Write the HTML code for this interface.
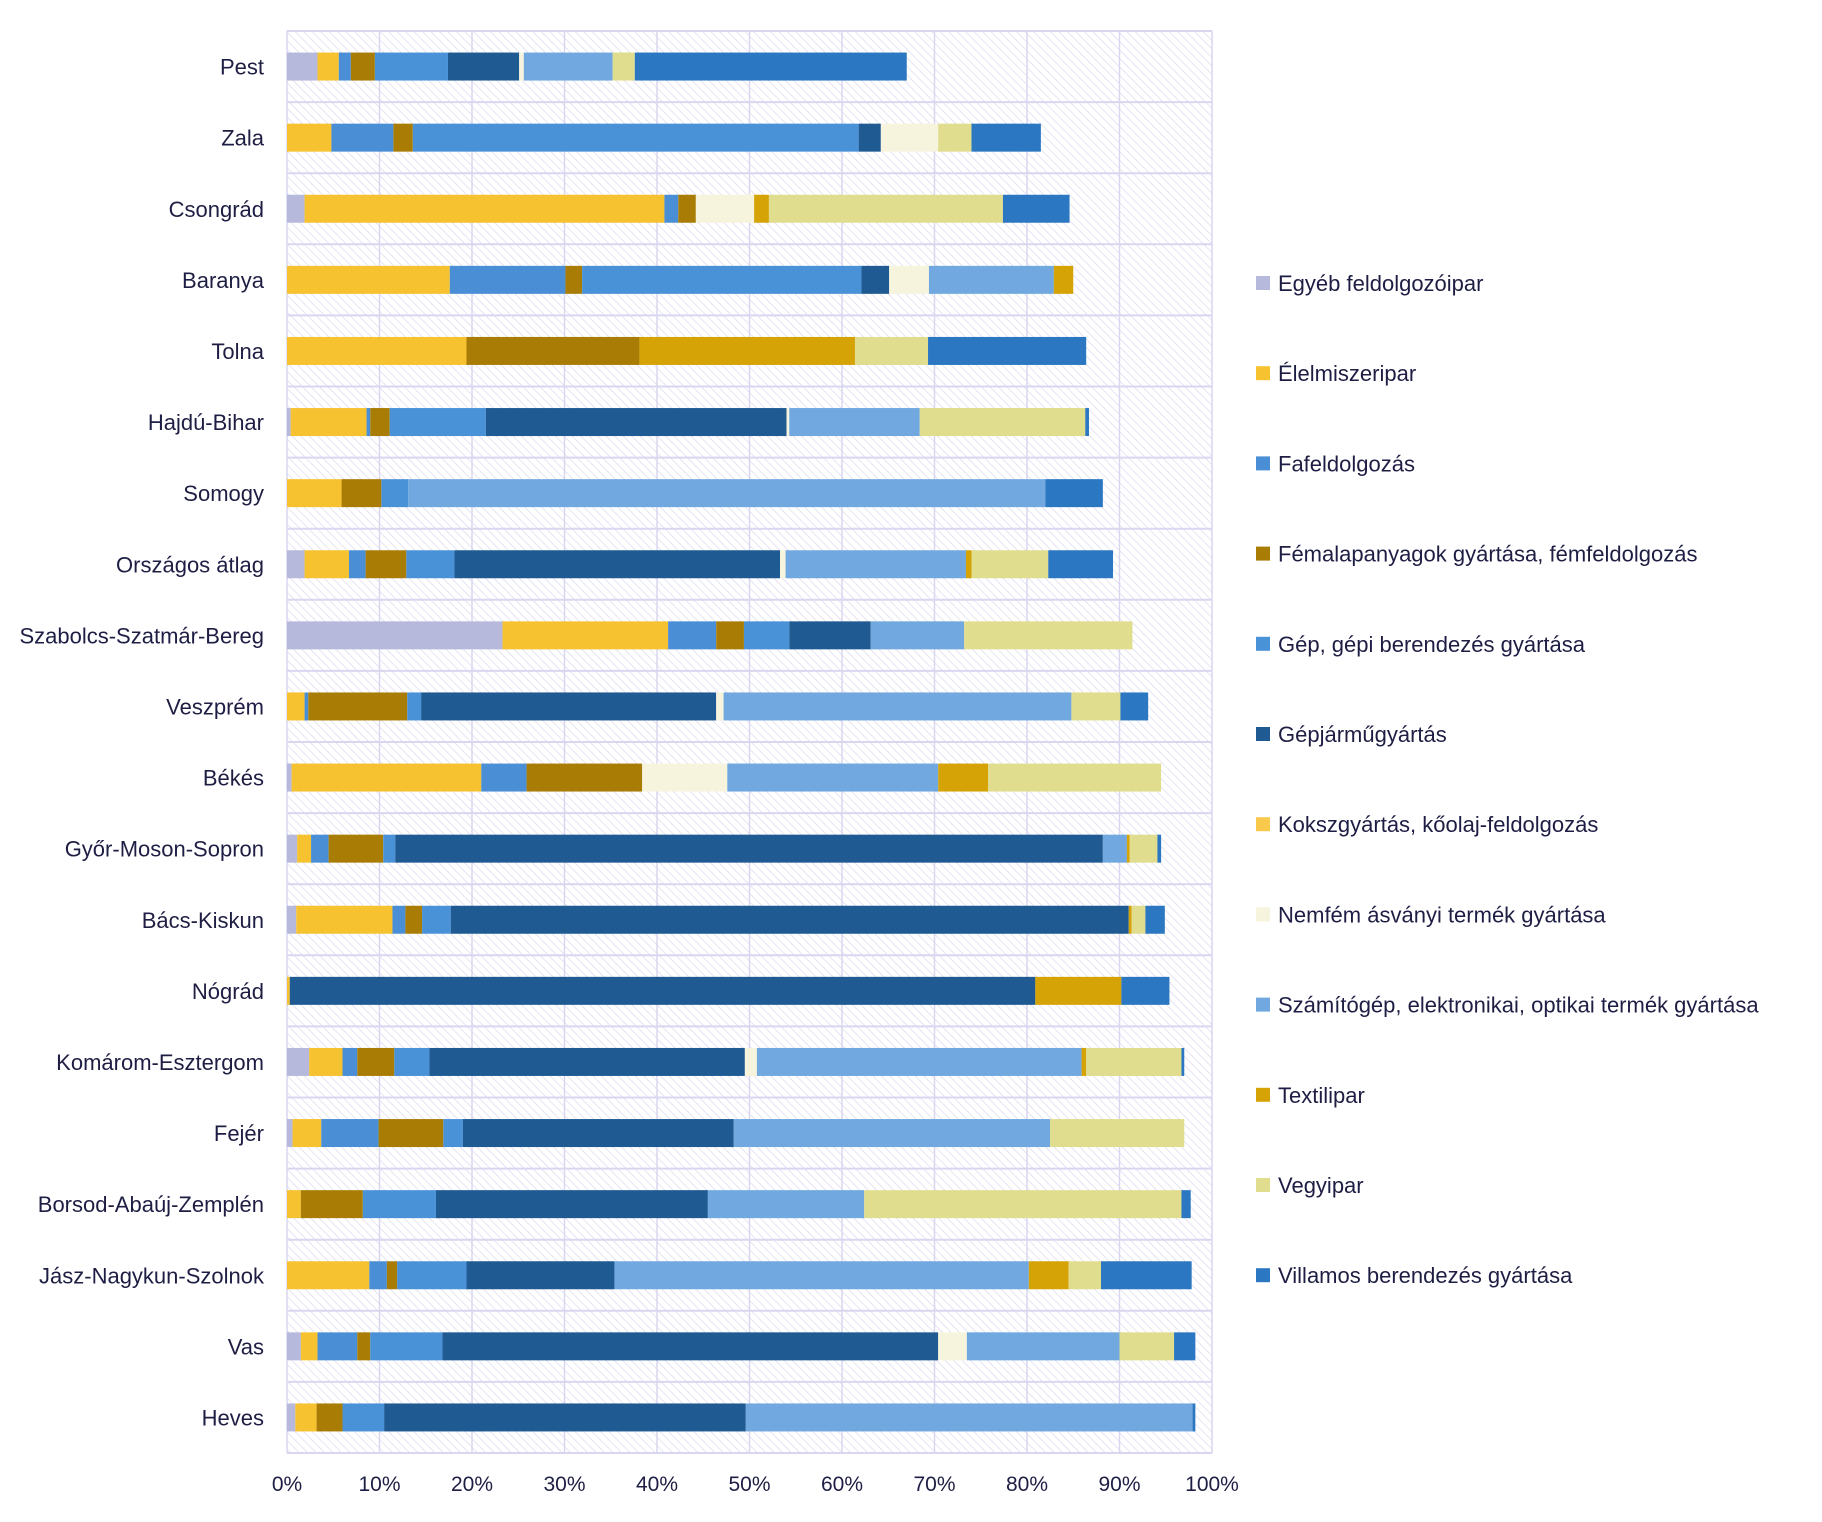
<!DOCTYPE html>
<html><head><meta charset="utf-8"><style>
html,body{margin:0;padding:0;background:#fff;}
svg text{font-family:"Liberation Sans",sans-serif;fill:#1e1e44;}
</style></head><body>
<svg id="chart" width="1822" height="1517" xmlns="http://www.w3.org/2000/svg">
<defs>
<pattern id="hatch" width="6" height="6" patternUnits="userSpaceOnUse" patternTransform="rotate(-45)">
<line x1="0" y1="0" x2="0" y2="6" stroke="#d8d5ee" stroke-width="1.3"/>
</pattern>
</defs>
<g id="plot"></g>
<g id="legend"></g>
</svg>
<script>
const categories=["Pest","Zala","Csongrád","Baranya","Tolna","Hajdú-Bihar","Somogy","Országos átlag","Szabolcs-Szatmár-Bereg","Veszprém","Békés","Győr-Moson-Sopron","Bács-Kiskun","Nógrád","Komárom-Esztergom","Fejér","Borsod-Abaúj-Zemplén","Jász-Nagykun-Szolnok","Vas","Heves"];
const seriesNames=["Egyéb feldolgozóipar","Élelmiszeripar","Fafeldolgozás","Fémalapanyagok gyártása, fémfeldolgozás","Gép, gépi berendezés gyártása","Gépjárműgyártás","Kokszgyártás, kőolaj-feldolgozás","Nemfém ásványi termék gyártása","Számítógép, elektronikai, optikai termék gyártása","Textilipar","Vegyipar","Villamos berendezés gyártása"];
const egyeb=[3.3,0,1.9,0,0,0.4,0,1.9,23.3,0,0.5,1.1,1.0,0,2.4,0.6,0,0,1.5,0.9];
const elelmiszer=[2.3,4.8,38.9,17.6,19.4,8.2,5.9,4.8,17.9,1.9,20.5,1.5,10.4,0.3,3.6,3.1,1.5,8.9,1.8,2.3];
const fafeld=[1.3,6.7,1.5,12.5,0,0.4,0,1.8,5.2,0.4,4.9,1.9,1.4,0,1.6,6.2,0,1.9,4.3,0];
const femalap=[2.6,2.1,1.9,1.8,18.7,2.1,4.3,4.4,3.0,10.7,12.5,5.9,1.8,0,4.0,7.0,6.7,1.1,1.4,2.8];
const gep=[7.9,48.2,0,30.2,0,10.4,2.9,5.2,4.9,1.5,0,1.3,3.1,0,3.8,2.1,7.9,7.5,7.8,4.5];
const gepjarmu=[7.7,2.4,0,3.0,0,32.5,0,35.2,8.8,31.9,0,76.5,73.3,80.6,34.1,29.3,29.4,16.0,53.6,39.1];
const koksz=[0,0,0,0,0,0,0,0,0,0,0,0,0,0,0,0,0,0,0,0];
const nemfem=[0.5,6.2,6.3,4.3,0,0.3,0,0.6,0,0.8,9.2,0,0,0,1.3,0,0,0,3.1,0];
const szamitogep=[9.6,0,0,13.5,0,14.1,68.9,19.5,10.1,37.6,22.8,2.6,0,0,35.1,34.2,16.9,44.8,16.5,48.3];
const textil=[0,0,1.6,2.1,23.3,0,0,0.6,0,0,5.4,0.3,0.3,9.3,0.5,0,0,4.3,0,0];
const vegyipar=[2.4,3.6,25.3,0,7.9,17.9,0,8.3,18.2,5.3,18.7,3.0,1.5,0,10.3,14.5,34.3,3.5,5.9,0];
const villamos=[29.4,7.5,7.2,0,17.1,0.4,6.2,7.0,0,3.0,0,0.4,2.1,5.2,0.3,0,1.0,9.8,2.3,0.3];
const xTicks=["0%","10%","20%","30%","40%","50%","60%","70%","80%","90%","100%"];

const series=[egyeb,elelmiszer,fafeld,femalap,gep,gepjarmu,koksz,nemfem,szamitogep,textil,vegyipar,villamos];
const colors=["#b6b9dc","#f6c230","#4a8fd5","#a97d05","#4a92d8","#1f5a93","#f8c94a","#f7f4dd","#70a8df","#d6a306","#e0dd8e","#2b77c2"];
const slugs=["egyeb","elelmiszer","fafeld","femalap","gep","gepjarmu","koksz","nemfem","szamitogep","textil","vegyipar","villamos"];
const NS="http://www.w3.org/2000/svg";
const L=287,R=1212,T=31,B=1453;
const rowH=(B-T)/categories.length, barH=28;
const x=v=>L+(R-L)*v/100;
const yc=i=>T+rowH*(i+0.5);
const plot=document.getElementById('plot');
function mk(tag,attrs,parent){const e=document.createElementNS(NS,tag);for(const k in attrs)e.setAttribute(k,attrs[k]);parent.appendChild(e);return e;}

let bg=mk('rect',{x:L,y:T,width:R-L,height:B-T,fill:'url(#hatch)'},plot);


for(let t=0;t<xTicks.length;t++){
  const xx=x(t*10);
  let g=mk('line',{x1:xx,y1:T,x2:xx,y2:B,stroke:'#d9d7f0','stroke-width':1.5},plot);
  
  
  let tl=mk('text',{x:xx,y:B+38,'text-anchor':'middle','font-size':21},plot);
  tl.textContent=xTicks[t];
  
  
}
for(let i=0;i<=categories.length;i++){
  const yy=T+rowH*i;
  let g=mk('line',{x1:L,y1:yy,x2:R,y2:yy,stroke:'#d9d7f0','stroke-width':2},plot);
  
  
}
categories.forEach((c,i)=>{
  let t=mk('text',{x:264,y:yc(i)+8,'text-anchor':'end','font-size':22},plot);
  t.textContent=c;
  
  
  let acc=0;
  series.forEach((s,k)=>{
    const v=s[i];
    if(v>0){
      let r=mk('rect',{x:x(acc),y:yc(i)-barH/2,width:x(acc+v)-x(acc),height:barH,fill:colors[k]},plot);
      
      
    }
    acc+=v;
  });
});
const leg=document.getElementById('legend');
seriesNames.forEach((n,k)=>{
  const yy=283+k*90.2;
  let m=mk('rect',{x:1256,y:yy-7,width:14,height:14,fill:colors[k]},leg);
  
  
  let t=mk('text',{x:1278,y:yy+8,'font-size':22},leg);
  t.textContent=n;
  
  
});
</script>
</body></html>
